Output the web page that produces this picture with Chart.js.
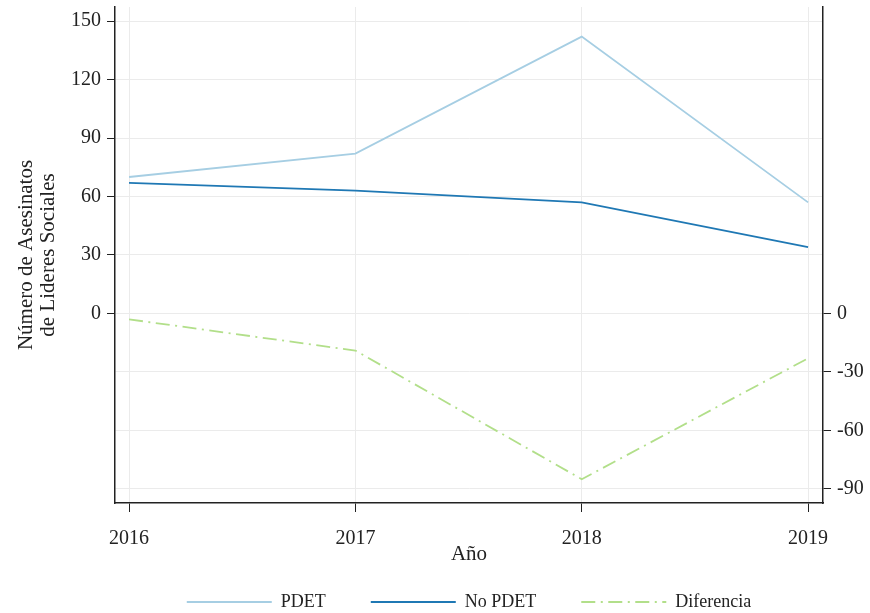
<!DOCTYPE html>
<html>
<head>
<meta charset="utf-8">
<script src="https://cdn.jsdelivr.net/npm/chart.js@4/dist/chart.umd.min.js"></script>
<style>
  html, body { margin: 0; padding: 0; background: #fff; overflow: hidden; }
  #wrap { width: 870px; height: 621px; }
</style>
</head>
<body>
<div id="wrap"><canvas id="chart" width="870" height="621"></canvas></div>
<script>
// ─── Data ──────────────────────────────────────────────────────────────
const YEARS      = [2016, 2017, 2018, 2019];
const PDET       = [70, 82, 142, 57];
const NO_PDET    = [67, 63, 57, 34];
const DIFERENCIA = [-3, -19, -85, -23];

const LEFT_TICKS  = [-90, -60, -30, 0, 30, 60, 90, 120, 150];
const RIGHT_TICKS = [-90, -60, -30, 0];

const FONT = "'Liberation Serif', 'DejaVu Serif', serif";
const INK  = "#222222";

const toPoints = (vals) => YEARS.map((yr, i) => ({ x: yr, y: vals[i] }));

// drop the label-overflow padding Chart.js asks for, so the plot box sits where we want it
const noPad = (axis) => {
    axis.paddingTop = 0;
    axis.paddingBottom = 0;
    axis.paddingLeft = 0;
    axis.paddingRight = 0;
};

new Chart(document.getElementById("chart"), {
    type: "line",
    data: {
        datasets: [
            { label: "PDET",       data: toPoints(PDET),       borderColor: "#a6cee3", backgroundColor: "#a6cee3", borderWidth: 1.8, yAxisID: "y" },
            { label: "No PDET",    data: toPoints(NO_PDET),    borderColor: "#1f78b4", backgroundColor: "#1f78b4", borderWidth: 1.8, yAxisID: "y" },
            { label: "Diferencia", data: toPoints(DIFERENCIA), borderColor: "#b2df8a", backgroundColor: "#b2df8a", borderWidth: 1.8, borderDash: [14, 5.5, 2, 5.5], yAxisID: "y2" },
        ],
    },
    options: {
        responsive: false,
        animation: false,
        layout: { padding: { top: 7, left: 0, right: 0, bottom: 0 } },
        elements: { point: { radius: 0 }, line: { tension: 0 } },
        plugins: {
            tooltip: { enabled: false },
            legend: {
                position: "bottom",
                fullSize: false,
                labels: {
                    usePointStyle: true,
                    pointStyle: "line",
                    pointStyleWidth: 85,
                    padding: 45,
                    color: INK,
                    font: { family: FONT, size: 18 },
                    // point-style legend items take the point's style, so carry the line's dash and width over
                    generateLabels: (chart) => {
                        const items = Chart.defaults.plugins.legend.labels.generateLabels(chart);
                        return items.map((item) => {
                            const ds = chart.data.datasets[item.datasetIndex];
                            return { ...item, lineDash: ds.borderDash || [], lineWidth: ds.borderWidth, strokeStyle: ds.borderColor };
                        });
                    },
                },
            },
        },
        scales: {
            x: {
                type: "linear",
                min: 2015.938,
                max: 2019.066,
                afterBuildTicks: (axis) => { axis.ticks = YEARS.map((v) => ({ value: v })); },
                afterFit: (axis) => { axis.height = 45; noPad(axis); },
                ticks: { color: INK, font: { family: FONT, size: 20 }, padding: 15, maxRotation: 0, callback: (v) => String(v) },
                grid: { color: "#ebebeb", lineWidth: 1, tickLength: 9, tickColor: INK },
                border: { display: true, color: INK, width: 1.5 },
                title: { display: true, text: "Año", color: INK, font: { family: FONT, size: 21, lineHeight: 1.05 }, padding: { top: 0, bottom: -18 } },
            },
            y: {
                position: "left",
                min: -97.2,
                max: 157.2,
                afterBuildTicks: (axis) => { axis.ticks = LEFT_TICKS.map((v) => ({ value: v })); },
                afterFit: (axis) => { axis.width = 115; noPad(axis); },
                ticks: { color: INK, font: { family: FONT, size: 20 }, padding: 6, callback: (v) => (v >= 0 ? String(v) : "") },
                grid: {
                    color: "#ebebeb",
                    lineWidth: 1,
                    tickLength: 8,
                    tickColor: (ctx) => (ctx.tick && ctx.tick.value >= 0 ? INK : "rgba(0,0,0,0)"),
                },
                border: { display: true, color: INK, width: 1.5 },
                title: {
                    display: true,
                    text: ["Número de Asesinatos", "de Lideres Sociales"],
                    color: INK,
                    font: { family: FONT, size: 21, lineHeight: 1.05 },
                    padding: { top: 15, bottom: 0 },
                },
            },
            y2: {
                position: "right",
                min: -97.2,
                max: 157.2,
                afterBuildTicks: (axis) => { axis.ticks = RIGHT_TICKS.map((v) => ({ value: v })); },
                afterFit: (axis) => { axis.width = 47; noPad(axis); },
                ticks: { color: INK, font: { family: FONT, size: 20 }, padding: 6, callback: (v) => String(v) },
                grid: { drawOnChartArea: false, tickLength: 8, tickColor: INK },
                border: { display: true, color: INK, width: 1.5 },
            },
        },
    },
});
</script>
</body>
</html>
